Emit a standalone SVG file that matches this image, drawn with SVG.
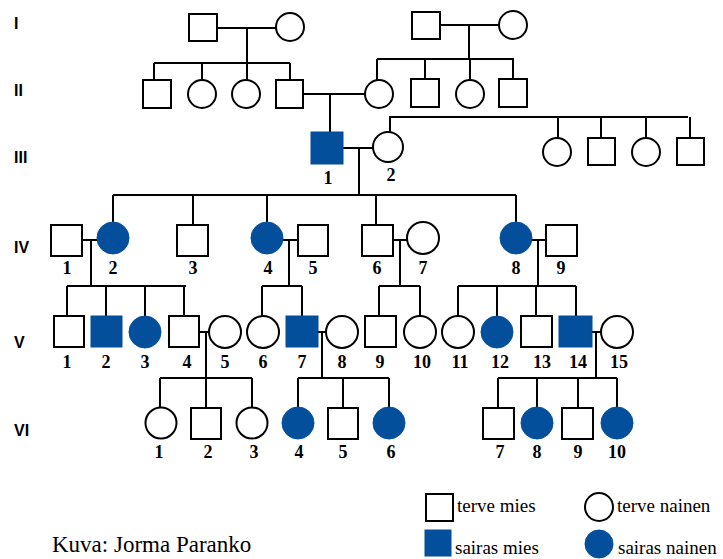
<svg xmlns="http://www.w3.org/2000/svg" width="723" height="559" viewBox="0 0 723 559">
<style>
.bg{fill:#fff}
.c path,.c line{stroke:#000;stroke-width:2;fill:none}
.u{fill:#fff;stroke:#000;stroke-width:2}
.a{fill:#034f9c;stroke:#034f9c;stroke-width:1}
.n{font-family:"Liberation Serif",serif;font-weight:bold;font-size:18px;text-anchor:middle;fill:#000}
.g{font-family:"Liberation Sans",Arial,sans-serif;font-weight:bold;font-size:16px;fill:#000}
.l{font-family:"Liberation Serif",serif;font-size:19px;fill:#000}
</style>
<rect class="bg" x="0" y="0" width="723" height="559"/>
<g id="gen-labels">
<text class="g" x="14" y="29">I</text>
<text class="g" x="14" y="96">II</text>
<text class="g" x="14" y="163">III</text>
<text class="g" x="14" y="253">IV</text>
<text class="g" x="14" y="348">V</text>
<text class="g" x="14" y="436">VI</text>
</g>
<g id="connectors" class="c">
<path d="M217 28H276M247 28V63M154 63H290M154 63V80M202 63V80M247 63V80M290 63V80"/>
<path d="M440 25H499M469 25V59M377 59H514M377 59V80M425 59V79M470 59V80M513 59V79"/>
<path d="M303 94H365M330 94V132"/>
<path d="M343 148H373M359 148V195"/>
<path d="M390 132V117H688M558 117V138M601 117V138M646 117V138M690 117V138"/>
<path d="M113 195H516M113 195V222M193 195V225M267 195V222M376 195V225M516 195V222"/>
<path d="M82 240H97M91 240V286M67 286H186M67 286V316M106 286V316M145 286V316M184 286V316"/>
<path d="M283 240H298M289 240V286M262 286H302M262 286V316M302 286V316"/>
<path d="M393 240H407M400 240V286M379 286H420M379 286V316M420 286V316"/>
<path d="M532 240H546M538 240V286M458 286H576M458 286V316M497 286V316M536 286V316M576 286V316"/>
<path d="M199 332H209M206 332V378M160 378H252M160 378V408M206 378V408M252 378V408"/>
<path d="M318 332H326M322 332V378M298 378H389M298 378V408M343 378V408M389 378V408"/>
<path d="M592 332H601M596 332V378M498 378H617M498 378V408M537 378V408M578 378V408M617 378V408"/>
</g>
<g id="I-1"><rect class="u" x="189" y="14" width="28" height="27"/></g>
<g id="I-2"><circle class="u" cx="290" cy="27" r="14"/></g>
<g id="I-3"><rect class="u" x="412" y="12" width="28" height="27"/></g>
<g id="I-4"><circle class="u" cx="513" cy="25" r="14"/></g>
<g id="II-1"><rect class="u" x="143" y="80" width="28" height="28"/></g>
<g id="II-2"><circle class="u" cx="202" cy="94" r="14"/></g>
<g id="II-3"><circle class="u" cx="246" cy="94" r="14"/></g>
<g id="II-4"><rect class="u" x="276" y="80" width="27" height="28"/></g>
<g id="II-5"><circle class="u" cx="379" cy="94" r="14"/></g>
<g id="II-6"><rect class="u" x="411" y="79" width="28" height="28"/></g>
<g id="II-7"><circle class="u" cx="470" cy="94" r="14"/></g>
<g id="II-8"><rect class="u" x="499" y="79" width="28" height="28"/></g>
<g id="III-1"><rect class="a" x="311" y="132" width="32" height="32"/><text class="n" x="328" y="184">1</text></g>
<g id="III-2"><circle class="u" cx="388" cy="147" r="15"/><text class="n" x="391" y="181">2</text></g>
<g id="III-3"><circle class="u" cx="557" cy="152" r="14"/></g>
<g id="III-4"><rect class="u" x="588" y="138" width="27" height="27"/></g>
<g id="III-5"><circle class="u" cx="646" cy="152" r="14"/></g>
<g id="III-6"><rect class="u" x="677" y="138" width="27" height="27"/></g>
<g id="IV-1"><rect class="u" x="51" y="225" width="31" height="31"/><text class="n" x="67" y="274">1</text></g>
<g id="IV-2"><circle class="a" cx="113" cy="238" r="16"/><text class="n" x="113" y="274">2</text></g>
<g id="IV-3"><rect class="u" x="177" y="225" width="31" height="31"/><text class="n" x="193" y="274">3</text></g>
<g id="IV-4"><circle class="a" cx="267" cy="238" r="16"/><text class="n" x="268" y="274">4</text></g>
<g id="IV-5"><rect class="u" x="298" y="225" width="30" height="31"/><text class="n" x="313" y="274">5</text></g>
<g id="IV-6"><rect class="u" x="362" y="225" width="31" height="31"/><text class="n" x="377" y="274">6</text></g>
<g id="IV-7"><circle class="u" cx="423" cy="238" r="16"/><text class="n" x="423" y="274">7</text></g>
<g id="IV-8"><circle class="a" cx="516" cy="238" r="16"/><text class="n" x="516" y="274">8</text></g>
<g id="IV-9"><rect class="u" x="546" y="225" width="31" height="31"/><text class="n" x="561" y="274">9</text></g>
<g id="V-1"><rect class="u" x="54" y="316" width="30" height="31"/><text class="n" x="67" y="368">1</text></g>
<g id="V-2"><rect class="a" x="91" y="316" width="31" height="31"/><text class="n" x="106" y="368">2</text></g>
<g id="V-3"><circle class="a" cx="145" cy="332" r="16"/><text class="n" x="145" y="368">3</text></g>
<g id="V-4"><rect class="u" x="169" y="316" width="30" height="31"/><text class="n" x="187" y="368">4</text></g>
<g id="V-5"><circle class="u" cx="225" cy="332" r="16"/><text class="n" x="225" y="368">5</text></g>
<g id="V-6"><circle class="u" cx="263" cy="332" r="16"/><text class="n" x="263" y="368">6</text></g>
<g id="V-7"><rect class="a" x="286" y="316" width="32" height="31"/><text class="n" x="302" y="368">7</text></g>
<g id="V-8"><circle class="u" cx="342" cy="332" r="16"/><text class="n" x="342" y="368">8</text></g>
<g id="V-9"><rect class="u" x="365" y="316" width="31" height="31"/><text class="n" x="380" y="368">9</text></g>
<g id="V-10"><circle class="u" cx="420" cy="332" r="16"/><text class="n" x="422" y="368">10</text></g>
<g id="V-11"><circle class="u" cx="458" cy="332" r="16"/><text class="n" x="460" y="368">11</text></g>
<g id="V-12"><circle class="a" cx="497" cy="332" r="16"/><text class="n" x="500" y="368">12</text></g>
<g id="V-13"><rect class="u" x="521" y="316" width="31" height="31"/><text class="n" x="542" y="368">13</text></g>
<g id="V-14"><rect class="a" x="559" y="316" width="33" height="31"/><text class="n" x="578" y="368">14</text></g>
<g id="V-15"><circle class="u" cx="617" cy="332" r="16"/><text class="n" x="619" y="368">15</text></g>
<g id="VI-1"><circle class="u" cx="161" cy="423" r="15.5"/><text class="n" x="159" y="458">1</text></g>
<g id="VI-2"><rect class="u" x="191" y="408" width="30" height="31"/><text class="n" x="208" y="458">2</text></g>
<g id="VI-3"><circle class="u" cx="252" cy="423" r="15.5"/><text class="n" x="254" y="458">3</text></g>
<g id="VI-4"><circle class="a" cx="298" cy="423" r="16"/><text class="n" x="299" y="458">4</text></g>
<g id="VI-5"><rect class="u" x="328" y="408" width="30" height="31"/><text class="n" x="343" y="458">5</text></g>
<g id="VI-6"><circle class="a" cx="389" cy="423" r="16"/><text class="n" x="391" y="458">6</text></g>
<g id="VI-7"><rect class="u" x="483" y="408" width="31" height="31"/><text class="n" x="500" y="458">7</text></g>
<g id="VI-8"><circle class="a" cx="537" cy="423" r="16"/><text class="n" x="537" y="458">8</text></g>
<g id="VI-9"><rect class="u" x="562" y="408" width="31" height="31"/><text class="n" x="578" y="458">9</text></g>
<g id="VI-10"><circle class="a" cx="617" cy="423" r="16"/><text class="n" x="617" y="458">10</text></g>
<g id="legend">
<rect class="u" x="426" y="494" width="27" height="27"/>
<text class="l" x="457" y="512">terve mies</text>
<circle class="u" cx="599" cy="507" r="14"/>
<text class="l" x="617" y="512">terve nainen</text>
<rect class="a" x="425" y="530" width="26" height="26"/>
<text class="l" x="455" y="554">sairas mies</text>
<circle class="a" cx="599" cy="544" r="14"/>
<text class="l" x="618" y="554">sairas nainen</text>
</g>
<text id="credit" x="52" y="552" style="font-family:'Liberation Serif',serif;font-size:23px;fill:#000">Kuva: Jorma Paranko</text>
</svg>
